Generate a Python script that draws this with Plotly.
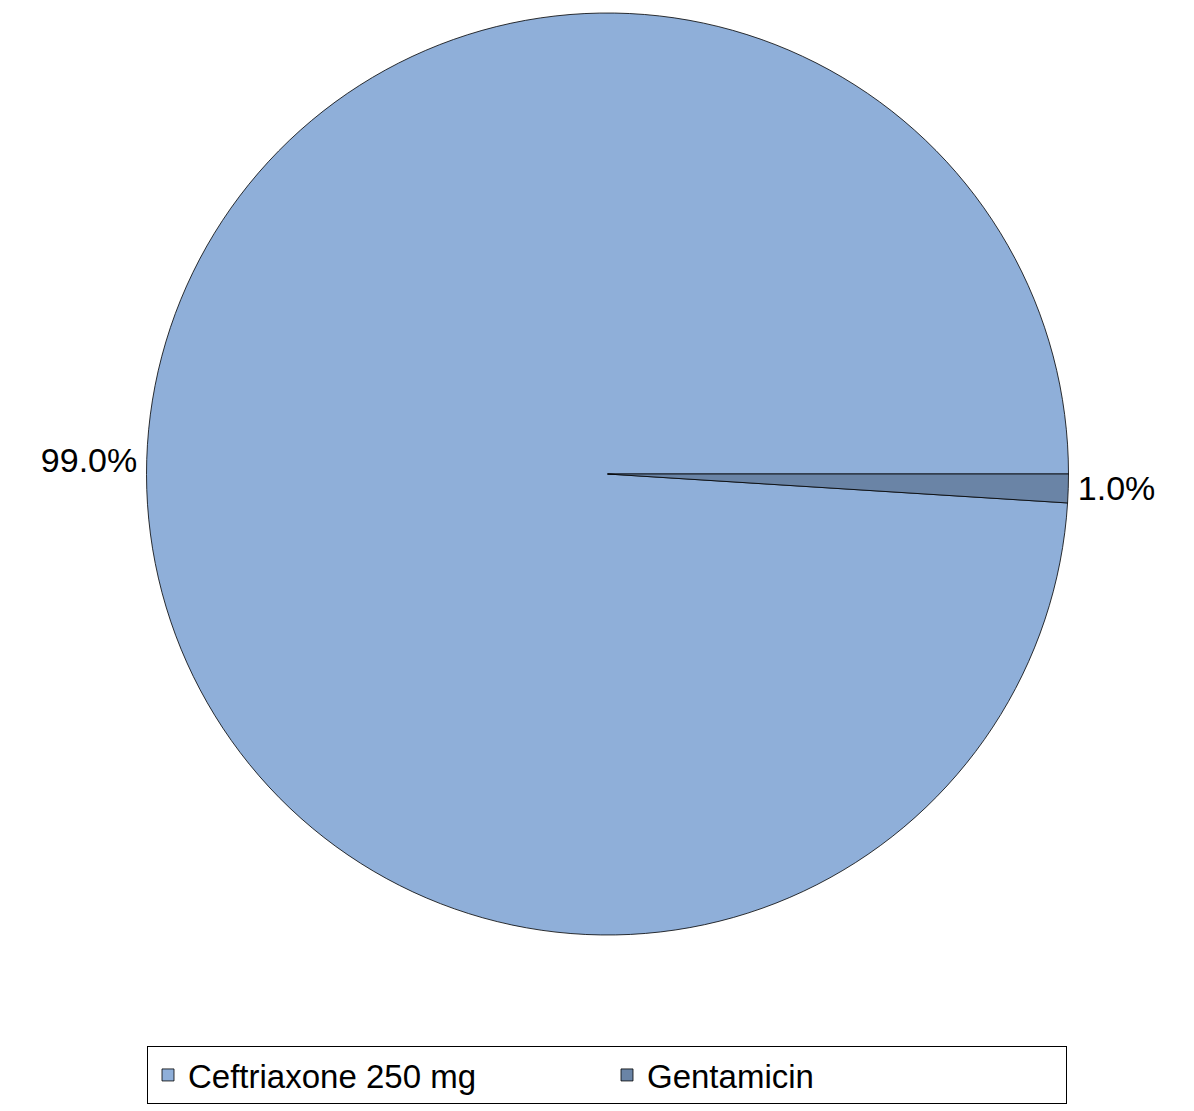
#######################################################################################################################
# Pie chart: antibiotic share (Ceftriaxone 250 mg vs Gentamicin)
#######################################################################################################################
import plotly.graph_objects as go

#######################################################################################################################
# Data
#######################################################################################################################
labels = ['Ceftriaxone 250 mg', 'Gentamicin']
values = [99.0, 1.0]
colors = ['#8FAFD9', '#6A84A6']

#######################################################################################################################
# Figure
#######################################################################################################################
# small slice should sit just below 3 o'clock -> shift start by its own angle
rot = 90 + 360 * values[1] / sum(values)

fig = go.Figure()

fig.add_trace(go.Pie(labels=labels, values=values, sort=False, direction='clockwise', rotation=rot,
                     marker=dict(colors=colors, line=dict(color='#000000', width=0.8)),
                     texttemplate='%{percent:.1%}', textposition='outside',
                     textfont=dict(family='Liberation Sans, Arial, sans-serif', size=34, color='#000000'),
                     hoverinfo='label+percent'))

# ==============================================================================
# Layout
# ==============================================================================
fig.update_layout(width=1194, height=1111,
                  margin=dict(l=137, r=132, t=2, b=184),
                  paper_bgcolor='#FFFFFF', plot_bgcolor='#FFFFFF',
                  font=dict(family='Liberation Sans, Arial, sans-serif', size=28, color='#000000'),
                  showlegend=True,
                  legend=dict(orientation='h', xref='container', yref='container',
                              x=599 / 1194, xanchor='center', y=1 - 1038 / 1111, yanchor='top',
                              bordercolor='#000000', borderwidth=1, bgcolor='#FFFFFF',
                              entrywidth=414, entrywidthmode='pixels',
                              font=dict(family='Liberation Sans, Arial, sans-serif', size=33, color='#000000')))

fig.write_html("out.html")
